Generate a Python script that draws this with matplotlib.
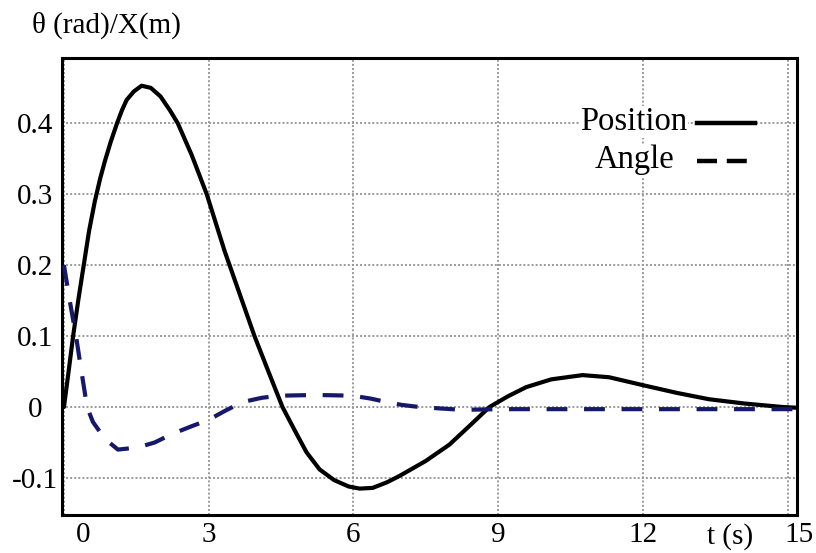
import matplotlib
matplotlib.use('Agg')
import matplotlib.pyplot as plt
import matplotlib.transforms as mtransforms
from matplotlib.lines import Line2D

# values
t_pos = [0, 0.1, 0.19, 0.3, 0.41, 0.52, 0.64, 0.75, 0.85, 0.97, 1.1, 1.2, 1.3,
         1.45, 1.61, 1.8, 2.0, 2.2, 2.36, 2.65, 2.96, 3.33, 3.65, 3.95, 4.25,
         4.53, 4.8, 5.03, 5.3, 5.6, 5.9, 6.13, 6.4, 6.7, 6.96, 7.5, 7.99, 8.4,
         8.82, 9.2, 9.58, 10.1, 10.75, 11.3, 11.99, 12.7, 13.37, 14.1, 14.9, 15.2]
position = [0, 0.052, 0.1, 0.152, 0.2, 0.248, 0.29, 0.322, 0.347, 0.374, 0.4,
            0.418, 0.433, 0.445, 0.453, 0.45, 0.438, 0.418, 0.4, 0.355, 0.3,
            0.22, 0.158, 0.1, 0.048, 0.0, -0.035, -0.064, -0.088, -0.103,
            -0.112, -0.115, -0.114, -0.106, -0.097, -0.076, -0.053, -0.027, 0.0,
            0.015, 0.028, 0.039, 0.045, 0.042, 0.031, 0.02, 0.011, 0.005, 0.0,
            -0.001]

t_ang = [0, 0.12, 0.25, 0.37, 0.48, 0.6, 0.85, 1.12, 1.53, 1.88, 2.24, 2.65,
         3.0, 3.35, 3.7, 4.1, 4.47, 5.24, 5.98, 6.35, 6.69, 7.0, 7.37, 7.8,
         8.26, 9.0, 15.2]
angle = [0.2, 0.15, 0.1, 0.047, 0.0, -0.021, -0.045, -0.06, -0.057, -0.05,
         -0.038, -0.027, -0.018, -0.005, 0.007, 0.013, 0.016, 0.017, 0.016,
         0.012, 0.007, 0.003, 0.0, -0.002, -0.004, -0.003, -0.003]

xticks = [0, 3, 6, 9, 12, 15]
yticks = [-0.1, 0, 0.1, 0.2, 0.3, 0.4]
ytick_labels = ['-0.1', '0', '0.1', '0.2', '0.3', '0.4']

plt.rcParams['font.family'] = ['Liberation Serif', 'DejaVu Serif']

fig = plt.figure(figsize=(8.16, 5.53), dpi=100)
ax = fig.add_axes([0.076, 0.069, 0.901, 0.826])

ax.plot(t_pos, position, color='black', lw=3, solid_capstyle='round',
        solid_joinstyle='round', zorder=3)
ax.plot(t_ang, angle, color='#15186b', lw=3, dashes=(5, 4), zorder=3)

ax.set_xlim(-0.04, 15.2)
ax.set_ylim(-0.152, 0.492)
ax.set_xticks(xticks)
ax.set_yticks(yticks)
ax.set_yticklabels(ytick_labels)
ax.grid(True, color='#999999', linestyle=(0, (1, 1.1)), lw=1.4)
ax.tick_params(length=0, labelsize=21)
ax.tick_params(axis='y', pad=19.5)
ax.tick_params(axis='x', pad=5)
for lab in ax.get_yticklabels():
    lab.set_horizontalalignment('center')
for sp in ax.spines.values():
    sp.set_linewidth(2.2)

# nudge the first and last x tick labels like in the reference
xl = ax.get_xticklabels()
xl[0].set_transform(xl[0].get_transform() + mtransforms.ScaledTranslation(19/100, 0, fig.dpi_scale_trans))
xl[-1].set_transform(xl[-1].get_transform() + mtransforms.ScaledTranslation(11/100, 0, fig.dpi_scale_trans))

# legend drawn by hand: text centred, handle to the right
ax.text(0.778, 0.86, 'Position', transform=ax.transAxes, ha='center', va='center',
        fontsize=23.5, zorder=4, bbox=dict(fc='white', ec='none', pad=0.5))
ax.text(0.778, 0.777, 'Angle', transform=ax.transAxes, ha='center', va='center',
        fontsize=23.5, zorder=4, bbox=dict(fc='white', ec='none', pad=0.5))
ax.add_line(Line2D([0.864, 0.943], [0.858, 0.858], transform=ax.transAxes,
                   color='black', lw=3.2, zorder=4))
ax.add_line(Line2D([0.864, 0.943], [0.775, 0.775], transform=ax.transAxes,
                   color='black', lw=3.2, dashes=(4.5, 2.2), zorder=4))

ax.text(0.909, -0.048, 't (s)', transform=ax.transAxes, ha='center', va='center',
        fontsize=21)
fig.text(0.039, 0.955, 'θ (rad)/X(m)', ha='left', va='center', fontsize=21)

plt.savefig('out.png', dpi=100)
